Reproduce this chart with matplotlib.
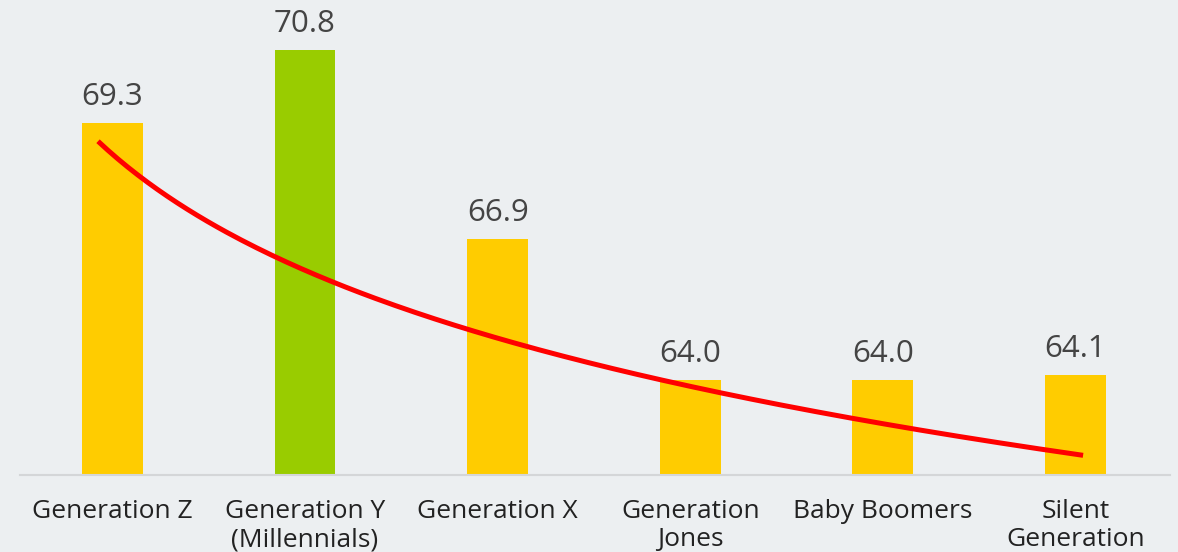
import numpy as np
import matplotlib
matplotlib.use("Agg")
import matplotlib.pyplot as plt

generations = ["Generation Z", "Generation Y\n(Millennials)", "Generation X",
               "Generation\nJones", "Baby Boomers", "Silent\nGeneration"]
scores = [69.3, 70.8, 66.9, 64.0, 64.0, 64.1]
bar_colors = ["#FFCC00", "#99CC00", "#FFCC00", "#FFCC00", "#FFCC00", "#FFCC00"]

# logarithmic trend: a + b * ln(position), positions counted from 1
trend_a = 68.65
trend_b = -3.45
trend_start, trend_end = 0.925, 6.04

bg = "#ECEFF1"
plt.rcParams["font.family"] = ["Open Sans", "DejaVu Sans"]

fig = plt.figure(figsize=(11.78, 5.52), dpi=100, facecolor=bg)
ax = fig.add_axes([0.017, 0.1395, 0.976, 0.8605])
ax.set_facecolor(bg)

x = np.arange(len(scores))
bars = ax.bar(x, scores, width=0.315, color=bar_colors, zorder=2)

for xi, v in zip(x, scores):
    ax.annotate(f"{v:.1f}", (xi, v), xytext=(0, 8), textcoords="offset points",
                ha="center", va="bottom", fontsize=22.5, color="#444444")

t = np.linspace(trend_start, trend_end, 200)
ax.plot(t - 1, trend_a + trend_b * np.log(t), color="#FF0000", lw=3.6,
        solid_capstyle="butt", zorder=3)

ax.set_ylim(62.04, 71.83)
ax.set_xlim(-0.48, 5.49)
ax.set_xticks(x)
ax.set_xticklabels(generations, fontsize=19, color="#222222", linespacing=1.2)
ax.tick_params(axis="x", length=0, pad=17)
ax.set_yticks([])
for side in ["top", "right", "left"]:
    ax.spines[side].set_visible(False)
ax.spines["bottom"].set_color("#D4D6D8")
ax.spines["bottom"].set_linewidth(1.5)

fig.savefig("out.png", dpi=100, facecolor=bg)
